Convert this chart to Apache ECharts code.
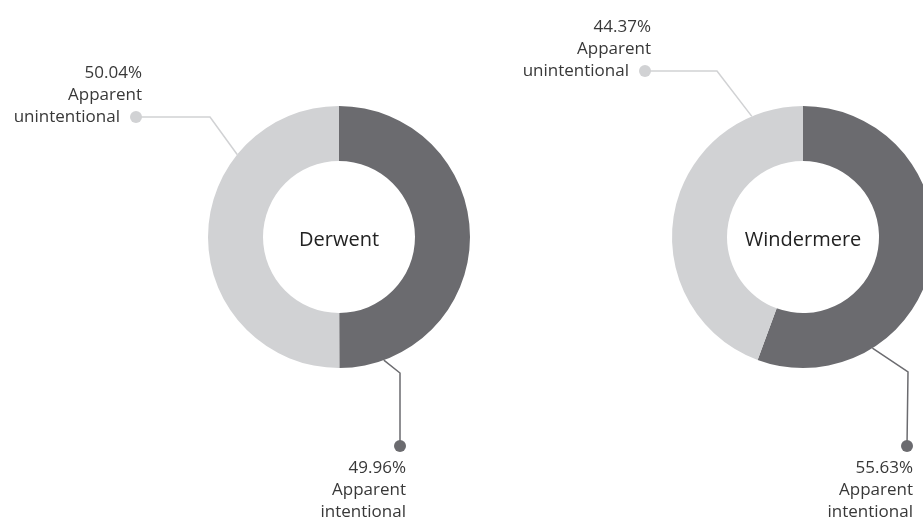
<!DOCTYPE html>
<html>
<head>
<meta charset="utf-8">
<script src="https://cdn.jsdelivr.net/npm/echarts@6/dist/echarts.min.js"></script>
<style>html,body{margin:0;padding:0;background:#fff}#c{width:923px;height:532px}</style>
</head>
<body>
<div id="c"></div>
<script>
// ---- data ----
var lakes = ['Derwent', 'Windermere'];
var categories = ['Apparent intentional', 'Apparent unintentional'];
var derwentValues = [49.96, 50.04];
var windermereValues = [55.63, 44.37];

// ---- layout / style config ----
var FONT = 'Open Sans';
var colors = ['#6b6b6f', '#d1d2d4'];
var centers = [[339, 237], [803, 237]];
var outerR = 131, innerR = 76;
var LH = 22;
// leader-line placement per lake per category: anchor angle on rim, corner offset, dot offset (relative to centre)
var placement = [
  [ {angle: -70, corner: [61, 136], dot: [61, 209]},
    {angle: 141, corner: [-129, -120], dot: [-203, -120]} ],
  [ {angle: -58, corner: [105, 135], dot: [104, 209]},
    {angle: 113, corner: [-86, -166], dot: [-158, -166]} ]
];

var chart = echarts.init(document.getElementById('c'), null, {renderer: 'canvas'});

function labelFormatter(p) {
  var pct = p.value.toFixed(2) + '%';
  var words = p.name.split(' ');
  if (p.dataIndex === 0) {
    return '{d0|}\n{t|' + pct + '}\n{t|' + words[0] + '}\n{t|' + words[1] + '}';
  }
  return '{t|' + pct + '}\n{t|' + words[0] + '}\n{t|' + words[1] + '}{g|}{d1|}';
}

function makeSeries(idx, values) {
  return {
    type: 'pie',
    center: centers[idx],
    radius: [innerR, outerR],
    startAngle: 90,
    clockwise: true,
    avoidLabelOverlap: false,
    silent: true,
    data: categories.map(function (c, i) {
      return {name: c, value: values[i], itemStyle: {color: colors[i]},
        labelLine: {lineStyle: {color: colors[i], width: 1.5}}};
    }),
    label: {
      show: true,
      position: 'outside',
      formatter: labelFormatter,
      align: 'right',
      rich: {
        t: {fontFamily: FONT, fontSize: 17, color: '#383838', lineHeight: LH, align: 'right'},
        g: {width: 10, height: 12, lineHeight: LH},
        d0: {width: 12, height: 12, borderRadius: 6, backgroundColor: colors[0], lineHeight: LH, align: 'right'},
        d1: {width: 12, height: 12, borderRadius: 6, backgroundColor: colors[1], lineHeight: LH}
      }
    },
    labelLine: {show: true, length: 10, length2: 10},
    labelLayout: function (params) {
      var s = params.seriesIndex, d = params.dataIndex;
      var c = centers[s], pl = placement[s][d];
      var a = pl.angle * Math.PI / 180;
      var start = [c[0] + outerR * Math.cos(a), c[1] - outerR * Math.sin(a)];
      var corner = [c[0] + pl.corner[0], c[1] + pl.corner[1]];
      var dot = [c[0] + pl.dot[0], c[1] + pl.dot[1]];
      if (d === 0) {
        return {x: dot[0] + 6, y: dot[1] - LH / 2, align: 'right', verticalAlign: 'top',
          labelLinePoints: [start, corner, dot]};
      }
      return {x: dot[0] + 6, y: dot[1] + LH / 2, align: 'right', verticalAlign: 'bottom',
        labelLinePoints: [start, corner, dot]};
    }
  };
}

chart.setOption({
  animation: false,
  backgroundColor: '#ffffff',
  title: lakes.map(function (name, i) {
    return {text: name, left: centers[i][0], top: centers[i][1] + 3, padding: 0,
      textAlign: 'center', textVerticalAlign: 'middle',
      textStyle: {fontFamily: FONT, fontSize: 20, fontWeight: 500, color: '#222'}};
  }),
  series: [makeSeries(0, derwentValues), makeSeries(1, windermereValues)]
});
</script>
</body>
</html>
